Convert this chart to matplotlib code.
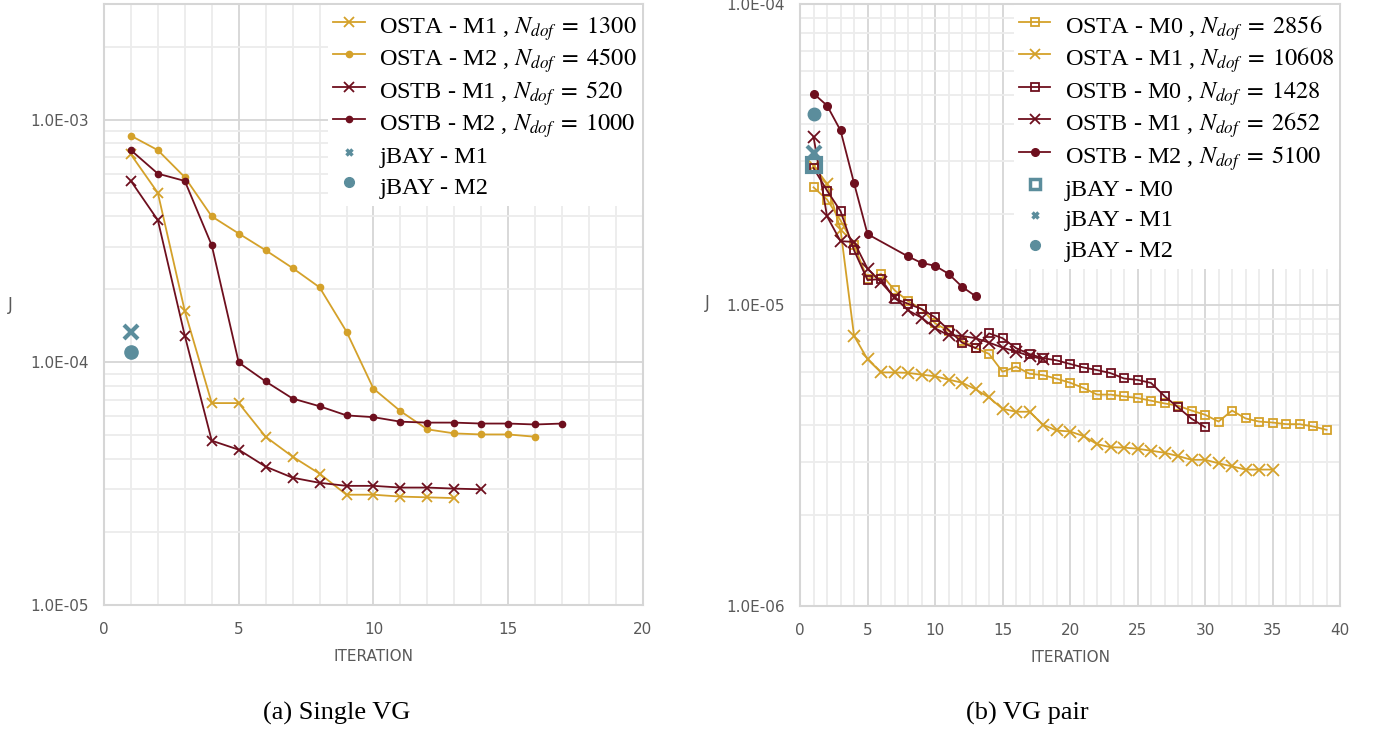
import numpy as np
import matplotlib
matplotlib.use("Agg")
import matplotlib.pyplot as plt
from matplotlib.ticker import LogLocator, FuncFormatter, MultipleLocator

plt.rcParams['mathtext.fontset'] = 'stix'

GOLD = '#D4A12A'
DARK = '#6E0F1E'
TEAL = '#5B8D9C'
GRID_MAJ = '#D6D6D6'
GRID_MIN = '#ECECEC'
TXT = '#595959'
TICKFONT = ['Liberation Sans Narrow', 'DejaVu Sans']
SERIF = ['Liberation Serif', 'DejaVu Serif']

# ---- (a) single VG ----
a_osta_m1_it = list(range(1, 14))
a_osta_m1 = [7.2e-4, 5.0e-4, 1.63e-4, 6.8e-5, 6.8e-5, 4.94e-5, 4.09e-5, 3.48e-5,
             2.85e-5, 2.85e-5, 2.8e-5, 2.78e-5, 2.76e-5]
a_osta_m2_it = list(range(1, 17))
a_osta_m2 = [8.6e-4, 7.5e-4, 5.8e-4, 4.0e-4, 3.4e-4, 2.9e-4, 2.45e-4, 2.04e-4,
             1.34e-4, 7.8e-5, 6.3e-5, 5.3e-5, 5.1e-5, 5.05e-5, 5.05e-5, 4.94e-5]
a_ostb_m1_it = list(range(1, 15))
a_ostb_m1 = [5.6e-4, 3.86e-4, 1.29e-4, 4.76e-5, 4.37e-5, 3.72e-5, 3.35e-5, 3.19e-5,
             3.1e-5, 3.1e-5, 3.05e-5, 3.05e-5, 3.02e-5, 3.0e-5]
a_ostb_m2_it = list(range(1, 18))
a_ostb_m2 = [7.5e-4, 6.0e-4, 5.6e-4, 3.04e-4, 1.0e-4, 8.35e-5, 7.1e-5, 6.6e-5,
             6.05e-5, 5.95e-5, 5.7e-5, 5.65e-5, 5.65e-5, 5.6e-5, 5.6e-5, 5.55e-5, 5.6e-5]
a_jbay_m1 = 1.34e-4
a_jbay_m2 = 1.1e-4

# ---- (b) VG pair ----
b_osta_m0_it = list(range(1, 40))
b_osta_m0 = [2.46e-5, 2.24e-5, 1.91e-5, 1.58e-5, 1.22e-5, 1.27e-5, 1.12e-5, 1.03e-5,
             9.7e-6, 8.7e-6, 8.2e-6, 7.6e-6, 7.2e-6, 6.88e-6, 6.0e-6, 6.24e-6,
             5.91e-6, 5.85e-6, 5.69e-6, 5.52e-6, 5.3e-6, 5.04e-6, 5.04e-6, 4.97e-6,
             4.91e-6, 4.81e-6, 4.71e-6, 4.63e-6, 4.46e-6, 4.32e-6, 4.1e-6, 4.46e-6,
             4.2e-6, 4.1e-6, 4.07e-6, 4.02e-6, 4.02e-6, 3.95e-6, 3.85e-6]
b_osta_m1_it = list(range(1, 36))
b_osta_m1 = [2.9e-5, 2.53e-5, 1.78e-5, 7.9e-6, 6.6e-6, 5.97e-6, 5.97e-6, 5.95e-6,
             5.87e-6, 5.8e-6, 5.65e-6, 5.52e-6, 5.25e-6, 4.93e-6, 4.52e-6, 4.42e-6,
             4.42e-6, 4.0e-6, 3.83e-6, 3.8e-6, 3.67e-6, 3.45e-6, 3.37e-6, 3.36e-6,
             3.33e-6, 3.28e-6, 3.23e-6, 3.15e-6, 3.06e-6, 3.06e-6, 2.98e-6, 2.91e-6,
             2.84e-6, 2.84e-6, 2.84e-6]
b_ostb_m0_it = list(range(1, 31))
b_ostb_m0 = [2.85e-5, 2.4e-5, 2.05e-5, 1.52e-5, 1.21e-5, 1.22e-5, 1.05e-5, 1.01e-5,
             9.7e-6, 9.1e-6, 8.27e-6, 7.5e-6, 7.19e-6, 8.05e-6, 7.76e-6, 7.19e-6,
             6.87e-6, 6.66e-6, 6.55e-6, 6.37e-6, 6.2e-6, 6.08e-6, 5.94e-6, 5.7e-6,
             5.64e-6, 5.51e-6, 4.98e-6, 4.57e-6, 4.19e-6, 3.93e-6]
b_ostb_m1_it = list(range(1, 19))
b_ostb_m1 = [3.62e-5, 1.97e-5, 1.63e-5, 1.62e-5, 1.32e-5, 1.19e-5, 1.06e-5, 9.6e-6,
             9.08e-6, 8.37e-6, 7.94e-6, 7.89e-6, 7.76e-6, 7.5e-6, 7.22e-6, 7.0e-6,
             6.78e-6, 6.6e-6]
b_ostb_m2_it = [1, 2, 3, 4, 5, 8, 9, 10, 11, 12, 13]
b_ostb_m2 = [5.04e-5, 4.6e-5, 3.8e-5, 2.54e-5, 1.72e-5, 1.45e-5, 1.38e-5, 1.35e-5,
             1.27e-5, 1.15e-5, 1.07e-5]
b_jbay_m0 = 2.92e-5
b_jbay_m1 = 3.2e-5
b_jbay_m2 = 4.3e-5


def style_axes(ax, xmax, ylo, yhi):
    ax.set_yscale('log')
    ax.set_xlim(0, xmax)
    ax.set_ylim(ylo, yhi)
    ax.xaxis.set_major_locator(MultipleLocator(5))
    ax.xaxis.set_minor_locator(MultipleLocator(1))
    ax.yaxis.set_major_locator(LogLocator(base=10))
    ax.yaxis.set_minor_locator(LogLocator(base=10, subs=np.arange(2, 10)))
    ax.yaxis.set_major_formatter(FuncFormatter(lambda v, p: f"{v:.1E}"))
    ax.yaxis.set_minor_formatter(FuncFormatter(lambda v, p: ""))
    ax.grid(True, which='major', color=GRID_MAJ, lw=1.3)
    ax.grid(True, which='minor', color=GRID_MIN, lw=1.3)
    ax.set_axisbelow(True)
    for s in ax.spines.values():
        s.set_color(GRID_MAJ)
        s.set_linewidth(1.5)
    ax.tick_params(which='both', length=0, colors=TXT, labelsize=11)
    ax.tick_params(axis='x', pad=12)
    ax.tick_params(axis='y', pad=11)
    for lab in ax.get_xticklabels() + ax.get_yticklabels():
        lab.set_family(TICKFONT)
    ax.set_xlabel('ITERATION', color=TXT, fontsize=11, family=TICKFONT, labelpad=9)


def nd(name, n):
    return name + r' , $N_{dof}\;=\;' + str(n) + '$'


fig = plt.figure(figsize=(13.73, 7.29), dpi=100)
ax1 = fig.add_axes([0.0757, 0.170, 0.3926, 0.8244])
ax2 = fig.add_axes([0.5827, 0.1687, 0.3933, 0.8258])

lw = 1.3
ax1.plot(a_osta_m1_it, a_osta_m1, color=GOLD, lw=lw, marker='x', ms=7, mew=1.3,
         label=nd('OSTA - M1', 1300))
ax1.plot(a_osta_m2_it, a_osta_m2, color=GOLD, lw=lw, marker='o', ms=4.5,
         label=nd('OSTA - M2', 4500))
ax1.plot(a_ostb_m1_it, a_ostb_m1, color=DARK, lw=lw, marker='x', ms=7, mew=1.3,
         label=nd('OSTB - M1', 520))
ax1.plot(a_ostb_m2_it, a_ostb_m2, color=DARK, lw=lw, marker='o', ms=4.5,
         label=nd('OSTB - M2', 1000))
ax1.plot([1], [a_jbay_m1], ls='none', color=TEAL, marker='x', ms=10, mew=3,
         label='jBAY - M1')
ax1.plot([1], [a_jbay_m2], ls='none', color=TEAL, marker='o', ms=9.5,
         label='jBAY - M2')
style_axes(ax1, 20, 1e-5, 3.0e-3)

ax2.plot(b_osta_m0_it, b_osta_m0, color=GOLD, lw=lw, marker='s', ms=6, mfc='none',
         mew=1.3, label=nd('OSTA - M0', 2856))
ax2.plot(b_osta_m1_it, b_osta_m1, color=GOLD, lw=lw, marker='x', ms=8, mew=1.3,
         label=nd('OSTA - M1', 10608))
ax2.plot(b_ostb_m0_it, b_ostb_m0, color=DARK, lw=lw, marker='s', ms=6, mfc='none',
         mew=1.3, label=nd('OSTB - M0', 1428))
ax2.plot(b_ostb_m1_it, b_ostb_m1, color=DARK, lw=lw, marker='x', ms=8, mew=1.3,
         label=nd('OSTB - M1', 2652))
ax2.plot(b_ostb_m2_it, b_ostb_m2, color=DARK, lw=lw, marker='o', ms=5.5,
         label=nd('OSTB - M2', 5100))
ax2.plot([1], [b_jbay_m0], ls='none', color=TEAL, marker='s', ms=10, mfc='none',
         mew=3, label='jBAY - M0')
ax2.plot([1], [b_jbay_m1], ls='none', color=TEAL, marker='x', ms=10, mew=3,
         label='jBAY - M1')
ax2.plot([1], [b_jbay_m2], ls='none', color=TEAL, marker='o', ms=9,
         label='jBAY - M2')
style_axes(ax2, 40, 1e-6, 1e-4)

legend_sizes = {'x': 5, 'o': 7, 's': 7}
for ax in (ax1, ax2):
    leg = ax.legend(loc='upper right', bbox_to_anchor=(1.0, 1.0), borderaxespad=0.05,
                    prop={'family': SERIF, 'size': 17.5}, handlelength=1.3,
                    handleheight=1.55, handletextpad=0.6, labelspacing=0.0,
                    frameon=True, fancybox=False, framealpha=1, facecolor='white',
                    edgecolor='none', borderpad=0.2)
    for h in leg.legend_handles:
        if h.get_linestyle() == 'None':
            m = h.get_marker()
            h.set_markersize(legend_sizes.get(m, 6))
            if m in ('x', 's'):
                h.set_markeredgewidth(2.5)
        else:
            if h.get_marker() == 'x':
                h.set_markersize(7)
            elif h.get_marker() == 's':
                h.set_markersize(6)

fig.text(10 / 1373, 1 - 305 / 729, 'J', color=TXT, fontsize=12, family=TICKFONT,
         ha='center', va='center')
fig.text(707 / 1373, 1 - 303 / 729, 'J', color=TXT, fontsize=12, family=TICKFONT,
         ha='center', va='center')

fig.text(337 / 1373, 1 - 713 / 729, '(a) Single VG', fontsize=19, family=SERIF,
         ha='center', va='center')
fig.text(1027 / 1373, 1 - 713 / 729, '(b) VG pair', fontsize=19, family=SERIF,
         ha='center', va='center')

fig.savefig('out.png', dpi=100)
